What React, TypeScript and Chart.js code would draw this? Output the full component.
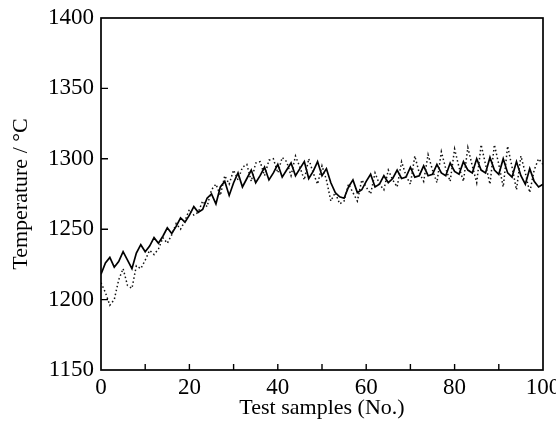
import React, { useEffect, useRef } from "react";
import { Chart, registerables } from "chart.js";

Chart.register(...registerables);

const samples: number[] = Array.from({ length: 101 }, (_, i) => i);

const measured: number[] = [
  1218, 1226, 1230, 1223, 1227, 1234, 1228, 1222, 1233, 1239,
  1234, 1238, 1244, 1240, 1245, 1251, 1247, 1252, 1258, 1255,
  1260, 1266, 1262, 1264, 1272, 1275, 1268, 1280, 1284, 1274,
  1283, 1290, 1280, 1286, 1292, 1283, 1288, 1294, 1285, 1290,
  1296, 1287, 1292, 1297, 1288, 1293, 1298, 1286, 1291, 1298,
  1288, 1293, 1283, 1276, 1273, 1272, 1280, 1285, 1276, 1278,
  1284, 1289, 1280, 1282, 1288, 1283, 1286, 1292, 1286, 1287,
  1294, 1287, 1288, 1295, 1288, 1289, 1296, 1290, 1288, 1297,
  1291, 1289, 1298, 1292, 1290, 1300, 1292, 1290, 1301, 1292,
  1289, 1300, 1290, 1287, 1298, 1288, 1282, 1293, 1284, 1280,
  1282,
];

const predicted: number[] = [
  1212, 1205, 1196, 1200, 1214, 1222, 1210, 1208, 1224, 1222,
  1228, 1235, 1232, 1236, 1244, 1240, 1246, 1254, 1250, 1256,
  1264, 1260, 1262, 1270, 1266, 1278, 1282, 1274, 1288, 1282,
  1292, 1285, 1294, 1296, 1284, 1297, 1298, 1288, 1299, 1300,
  1290, 1301, 1298, 1288, 1302, 1294, 1285, 1300, 1290, 1282,
  1295, 1285, 1270, 1276, 1268, 1270, 1282, 1276, 1270, 1285,
  1280, 1275, 1290, 1282, 1278, 1292, 1285, 1280, 1298, 1288,
  1282, 1302, 1290, 1284, 1303, 1292, 1283, 1305, 1293, 1284,
  1307, 1294, 1284, 1308, 1295, 1283, 1310, 1296, 1282, 1310,
  1296, 1280, 1309, 1294, 1278, 1302, 1290, 1276, 1292, 1300,
  1296,
];

const xTickLabels: string[] = ["0", "20", "40", "60", "80", "100"];
const yTickValues: number[] = [1150, 1200, 1250, 1300, 1350, 1400];

const FONT = "'Liberation Serif', 'DejaVu Serif', serif";

const framePlugin = {
  id: "frameTicks",
  afterDraw(chart: any) {
    const { ctx, chartArea } = chart;
    const xs = chart.scales.x;
    const ys = chart.scales.y;
    ctx.save();
    ctx.strokeStyle = "#000";
    ctx.lineWidth = 1.7;
    ctx.strokeRect(chartArea.left, chartArea.top, chartArea.right - chartArea.left, chartArea.bottom - chartArea.top);
    ctx.lineWidth = 1.4;
    ctx.beginPath();
    for (let v = 10; v < 100; v += 10) {
      const px = xs.getPixelForValue(v);
      ctx.moveTo(px, chartArea.bottom);
      ctx.lineTo(px, chartArea.bottom - 6);
    }
    for (const v of yTickValues) {
      if (v === 1150 || v === 1400) continue;
      const py = ys.getPixelForValue(v);
      ctx.moveTo(chartArea.left, py);
      ctx.lineTo(chartArea.left + 7, py);
    }
    ctx.stroke();
    ctx.restore();
  },
};

export default function App() {
  const ref = useRef<HTMLCanvasElement | null>(null);
  useEffect(() => {
    if (!ref.current) return;
    const chart = new Chart(ref.current, {
      type: "line",
      data: {
        labels: samples,
        datasets: [
          {
            data: samples.map((x, i) => ({ x, y: predicted[i] })),
            borderColor: "#111",
            borderWidth: 1.5,
            borderDash: [1.5, 2.5],
            pointRadius: 0,
            tension: 0,
            fill: false,
          },
          {
            data: samples.map((x, i) => ({ x, y: measured[i] })),
            borderColor: "#000",
            borderWidth: 1.7,
            pointRadius: 0,
            tension: 0,
            fill: false,
          },
        ],
      },
      options: {
        animation: false,
        responsive: true,
        maintainAspectRatio: false,
        layout: { padding: { top: 18, right: 13, left: 0, bottom: 0 } },
        plugins: { legend: { display: false }, tooltip: { enabled: false } },
        scales: {
          x: {
            type: "linear",
            min: 0,
            max: 100,
            grid: { display: false, drawTicks: false },
            border: { display: false },
            ticks: {
              stepSize: 20,
              padding: 4,
              color: "#000",
              font: { family: FONT, size: 23 },
              maxRotation: 0,
              autoSkip: false,
              callback: (v: any) => {
                const s = String(v);
                return xTickLabels.includes(s) ? s : "";
              },
            },
            title: {
              display: true,
              text: "Test samples (No.)",
              color: "#000",
              font: { family: FONT, size: 22 },
              padding: { top: 2, bottom: 16 },
            },
            afterFit: (s: any) => {
              s.height = 67;
              s.paddingLeft = 0;
              s.paddingRight = 0;
            },
          },
          y: {
            type: "linear",
            min: 1150,
            max: 1400,
            grid: { display: false, drawTicks: false },
            border: { display: false },
            afterBuildTicks: (s: any) => {
              s.ticks = yTickValues.map((v) => ({ value: v }));
            },
            ticks: {
              padding: 7,
              color: "#000",
              font: { family: FONT, size: 23 },
              callback: (v: any) => String(v),
            },
            title: {
              display: true,
              text: "Temperature / °C",
              color: "#000",
              font: { family: FONT, size: 22 },
              padding: { top: 8, bottom: 4 },
            },
            afterFit: (s: any) => {
              s.width = 101;
              s.paddingTop = 0;
              s.paddingBottom = 0;
            },
          },
        },
      },
      plugins: [framePlugin],
    });
    return () => chart.destroy();
  }, []);
  return (
    <div style={{ position: "absolute", left: 0, top: 0, width: 556, height: 437, background: "#fff" }}>
      <canvas ref={ref} />
    </div>
  );
}
